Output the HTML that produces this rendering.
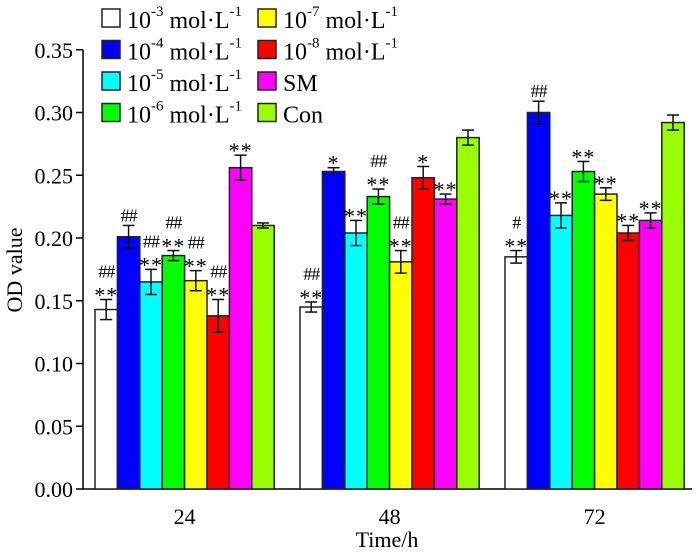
<!DOCTYPE html>
<html><head><meta charset="utf-8"><style>
body{margin:0;background:#fff}
svg{font-family:"Liberation Serif",serif}
</style></head><body>
<svg id="c" width="700" height="549" viewBox="0 0 700 549"></svg>
<script>
const categories=["24","48","72"];
const seriesNames=["10-3","10-4","10-5","10-6","10-7","10-8","SM","Con"];
const colors=["#ffffff","#0000ff","#00ffff","#00ff00","#ffff00","#ff0000","#ff00ff","#99ff00"];
const v24=[0.143,0.201,0.165,0.186,0.166,0.138,0.256,0.210];
const v48=[0.145,0.253,0.204,0.233,0.181,0.248,0.231,0.280];
const v72=[0.185,0.300,0.218,0.253,0.235,0.204,0.214,0.292];
const e24=[0.008,0.009,0.010,0.004,0.008,0.013,0.010,0.002];
const e48=[0.004,0.003,0.010,0.006,0.009,0.009,0.004,0.006];
const e72=[0.005,0.009,0.010,0.008,0.005,0.006,0.006,0.006];
const sig24=[["##","**"],["##"],["##","**"],["##","**"],["##","**"],["##","**"],["**"],[]];
const sig48=[["##","**"],["*"],["**"],["##","**"],["##","**"],["*"],["**"],[]];
const sig72=[["#","**"],["##"],["**"],["**"],["**"],["**"],["**"],[]];
const yTicks=[0,0.05,0.10,0.15,0.20,0.25,0.30,0.35];
const values=[v24,v48,v72],errs=[e24,e48,e72],sigs=[sig24,sig48,sig72];
const svg=document.getElementById('c');const NS="http://www.w3.org/2000/svg";
function el(t,a,p){const e=document.createElementNS(NS,t);for(const k in a)e.setAttribute(k,a[k]);(p||svg).appendChild(e);return e;}
const y=v=>489-v/0.05*62.75;
const bw=22.4,gx=i=>95+i*205;
const x0=83;
let a=el('line',{x1:x0,y1:y(0.35),x2:x0,y2:489,stroke:'#000','stroke-width':1.5});

a=el('line',{x1:x0,y1:489,x2:692,y2:489,stroke:'#000','stroke-width':1.5});

yTicks.forEach(t=>{
 const tk=el('line',{x1:x0-7,x2:x0,y1:y(t),y2:y(t),stroke:'#000','stroke-width':1.5});
 
 const tx=el('text',{x:73,y:y(t)+8,'text-anchor':'end','font-size':22});tx.textContent=t.toFixed(2);
 
});
categories.forEach((c,gi)=>{
 values[gi].forEach((v,si)=>{
  const bx=gx(gi)+si*bw;
  const r=el('rect',{x:bx,y:y(v),width:bw,height:489-y(v),fill:colors[si],stroke:'#222','stroke-width':1.5});
  
  const cx=bx+bw/2,e=errs[gi][si];
  const g=el('g',{stroke:'#111','stroke-width':1.5});
  
  el('line',{x1:cx,x2:cx,y1:y(v+e),y2:y(v-e)},g);
  el('line',{x1:cx-6,x2:cx+6,y1:y(v+e),y2:y(v+e)},g);
  el('line',{x1:cx-6,x2:cx+6,y1:y(v-e),y2:y(v-e)},g);
  const s=sigs[gi][si];
  s.slice().reverse().forEach((txt,k)=>{
   const isStar=txt.includes('*');
   const t=el('text',{x:cx,y:y(v+e)-4-k*18+(isStar?7:0),'text-anchor':'middle','font-size':isStar?22:18,'letter-spacing':isStar?1:-1});
   t.textContent=txt;
   
  });
 });
 const lb=el('text',{x:gx(gi)+4*bw,y:524,'text-anchor':'middle','font-size':22});lb.textContent=c;
 
});
let t=el('text',{x:387,y:547,'text-anchor':'middle','font-size':22});t.textContent='Time/h';

t=el('text',{x:22,y:270,'text-anchor':'middle','font-size':22,transform:'rotate(-90 22 270)'});t.textContent='OD value';

const legLabels=[["10","-3"],["10","-4"],["10","-5"],["10","-6"],["10","-7"],["10","-8"],["SM",null],["Con",null]];
legLabels.forEach((l,i)=>{
 const col=Math.floor(i/4),row=i%4;
 const lx=col?258:102,ly=9+row*31.5;
 const g=el('g',{});
 el('rect',{x:lx,y:ly,width:18,height:18,fill:colors[i],stroke:'#222','stroke-width':1.5},g);
 const tx=el('text',{x:lx+25,y:ly+19,'font-size':24},g);
 if(l[1]){
  const a1=el('tspan',{},tx);a1.textContent='10';
  const a2=el('tspan',{dy:-12,'font-size':15},tx);a2.textContent=l[1];
  const a3=el('tspan',{dy:12},tx);a3.textContent=' mol·L';
  const a4=el('tspan',{dy:-12,'font-size':15},tx);a4.textContent='-1';
 } else tx.textContent=l[0];
});
</script>
</body></html>
